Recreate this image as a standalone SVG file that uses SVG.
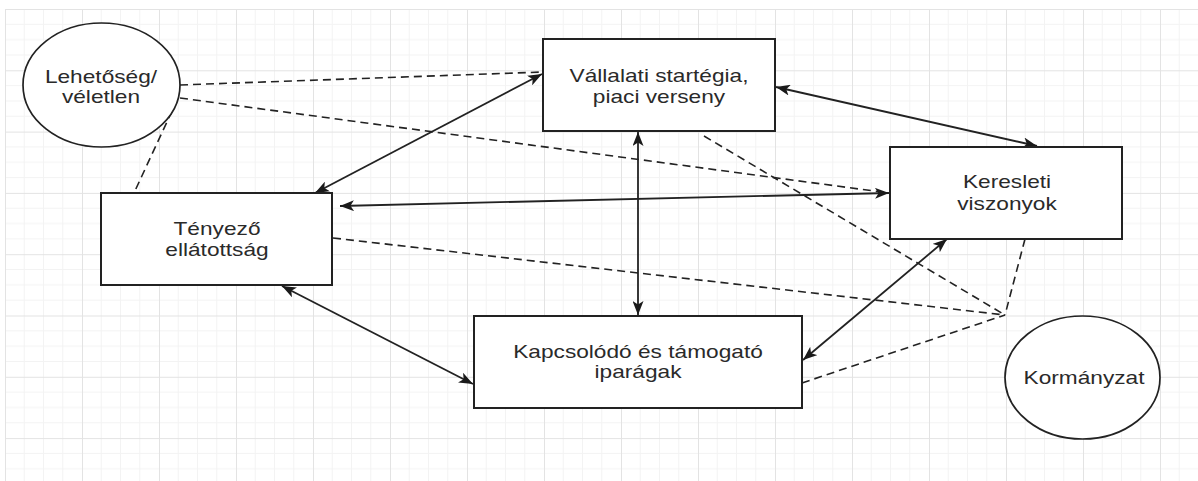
<svg xmlns="http://www.w3.org/2000/svg" width="1198" height="481" viewBox="0 0 1198 481">
<style>
.box{fill:#fff;stroke:#222;stroke-width:2}
.ell{fill:#fff;stroke:#222;stroke-width:1.7}
.lbl{font-family:"Liberation Sans",Arial,sans-serif;font-size:18px;fill:#2a2a2a;text-anchor:middle}
.solid{fill:none;stroke:#222;stroke-width:1.8;marker-start:url(#arr);marker-end:url(#arr)}
.dash{fill:none;stroke:#222;stroke-width:1.6;stroke-dasharray:8 5}
.minor{stroke:#f3f3f3;stroke-width:1}
.major{stroke:#e3e3e3;stroke-width:1}
</style>
<defs>
<pattern id="grid" patternUnits="userSpaceOnUse" x="5" y="9" width="77" height="61.3">
<line class="minor" x1="19.25" y1="0" x2="19.25" y2="61.3"/>
<line class="minor" x1="38.5" y1="0" x2="38.5" y2="61.3"/>
<line class="minor" x1="57.75" y1="0" x2="57.75" y2="61.3"/>
<line class="minor" x1="0" y1="15.3" x2="77" y2="15.3"/>
<line class="minor" x1="0" y1="30.65" x2="77" y2="30.65"/>
<line class="minor" x1="0" y1="46" x2="77" y2="46"/>
<line class="major" x1="0.5" y1="0" x2="0.5" y2="61.3"/>
<line class="major" x1="0" y1="0.5" x2="77" y2="0.5"/>
</pattern>
<marker id="arr" viewBox="0 0 14 11" refX="14" refY="5.5" markerWidth="14" markerHeight="11" markerUnits="userSpaceOnUse" orient="auto-start-reverse">
<path d="M0,0 L14,5.5 L0,11 L3.5,5.5 z" fill="#1a1a1a"/>
</marker>
</defs>
<rect x="0" y="0" width="1198" height="481" fill="#fff"/>
<rect x="5" y="9" width="1193" height="472" fill="url(#grid)"/>

<g id="connectors">
<line class="dash" x1="180" y1="85" x2="543" y2="72"/>
<line class="dash" x1="180" y1="98" x2="889" y2="193"/>
<line class="dash" x1="172" y1="111" x2="134" y2="193"/>
<line class="dash" x1="704" y1="136" x2="1005" y2="315"/>
<line class="dash" x1="333" y1="238" x2="1005" y2="315"/>
<line class="dash" x1="1025" y1="239" x2="1005" y2="315"/>
<line class="dash" x1="802" y1="383" x2="1005" y2="315"/>
<line class="solid" x1="315" y1="193" x2="542" y2="74"/>
<line class="solid" x1="776" y1="87" x2="1037" y2="146"/>
<line class="solid" x1="340" y1="206" x2="889" y2="193"/>
<line class="solid" x1="638" y1="132" x2="638" y2="315"/>
<line class="solid" x1="282" y1="286" x2="473" y2="384"/>
<line class="solid" x1="947" y1="239" x2="803" y2="360"/>
</g>

<g id="lehetoseg">
<ellipse class="ell" cx="101.5" cy="85" rx="78.5" ry="62"/>
<text class="lbl" transform="translate(101,83) scale(1.26,1)"><tspan x="0" y="0">Lehetőség/</tspan><tspan x="0" y="20">véletlen</tspan></text>
</g>

<g id="vallalati">
<rect class="box" x="543" y="39" width="232" height="92"/>
<text class="lbl" transform="translate(659,82) scale(1.26,1)"><tspan x="0" y="0">Vállalati startégia,</tspan><tspan x="0" y="21">piaci verseny</tspan></text>
</g>

<g id="keresleti">
<rect class="box" x="890" y="147" width="232" height="92"/>
<text class="lbl" transform="translate(1007,188) scale(1.26,1)"><tspan x="0" y="0">Keresleti</tspan><tspan x="0" y="22">viszonyok</tspan></text>
</g>

<g id="tenyezo">
<rect class="box" x="101" y="193" width="231" height="92"/>
<text class="lbl" transform="translate(217,235) scale(1.26,1)"><tspan x="0" y="0">Tényező</tspan><tspan x="0" y="21">ellátottság</tspan></text>
</g>

<g id="kapcsolodo">
<rect class="box" x="474" y="316" width="328" height="92"/>
<text class="lbl" transform="translate(638,358) scale(1.26,1)"><tspan x="0" y="0">Kapcsolódó és támogató</tspan><tspan x="0" y="20">iparágak</tspan></text>
</g>

<g id="kormanyzat">
<ellipse class="ell" cx="1082.5" cy="377.5" rx="77.5" ry="61.5"/>
<text class="lbl" transform="translate(1084,384) scale(1.26,1)">Kormányzat</text>
</g>
</svg>
